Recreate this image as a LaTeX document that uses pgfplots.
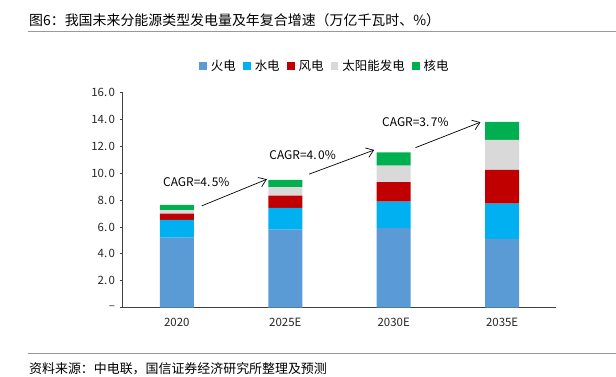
\documentclass[border=0pt]{standalone}
\usepackage{pgfplots}
\pgfplotsset{compat=1.18}
\usepackage{fontspec}
\setmainfont{Noto Sans CJK SC}
\usetikzlibrary{arrows.meta}
\definecolor{cHuo}{HTML}{5B9BD5}
\definecolor{cShui}{HTML}{00B0F0}
\definecolor{cFeng}{HTML}{C00000}
\definecolor{cTai}{HTML}{D9D9D9}
\definecolor{cHe}{HTML}{00B050}
\definecolor{axcol}{HTML}{404040}
\begin{document}
\begin{tikzpicture}[x=1bp,y=1bp]
\path (0,0) rectangle (616,377);
% title
\node[anchor=west, inner sep=0pt, font=\fontsize{14}{16}\selectfont] at (29,356.3) {图6：我国未来分能源类型发电量及年复合增速（万亿千瓦时、\%）};
\draw[gray!80, line width=0.8bp] (28,345.3) -- (616,345.3);
% footer
\draw[gray!80, line width=0.8bp] (28,23) -- (616,23);
\node[anchor=west, inner sep=0pt, font=\fontsize{13}{15}\selectfont] at (29,8) {资料来源：中电联，国信证券经济研究所整理及预测};
\begin{axis}[
  at={(122.7bp,69.3bp)}, anchor=south west,
  scale only axis, width=434bp, height=215bp,
  ybar stacked, bar width=34bp,
  xmin=-0.5, xmax=3.5, ymin=0, ymax=16,
  axis x line=bottom, axis y line=left,
  axis line style={-, axcol, line width=0.8bp},
  xtick={0,1,2,3},
  xticklabels={2020,2025E,2030E,2035E},
  x tick style={draw=none},
  extra x ticks={0.5,1.5,2.5,3.5},
  extra x tick labels={},
  extra x tick style={tick style={draw=axcol, line width=0.8bp}, major tick length=4bp, tick align=inside},
  ytick={0,2,4,6,8,10,12,14,16},
  yticklabels={--,2.\hspace{1.5bp}0,4.\hspace{1.5bp}0,6.\hspace{1.5bp}0,8.\hspace{1.5bp}0,10.\hspace{1.5bp}0,12.\hspace{1.5bp}0,14.\hspace{1.5bp}0,16.\hspace{1.5bp}0},
  y tick style={draw=axcol, line width=0.8bp},
  major tick length=3bp, tick align=outside,
  tick label style={font=\fontsize{11.5}{13}\selectfont, text=black!85},
  xticklabel style={yshift=-4bp},
  yticklabel style={xshift=-1bp},
  legend style={draw=none, at={(0.466,1.124)}, anchor=center, legend columns=5,
    font=\fontsize{12.5}{14}\selectfont, inner sep=0pt,
    /tikz/every even column/.append style={column sep=5bp}},
  legend image code/.code={\fill[#1] (0bp,-4bp) rectangle (8bp,4bp); \path (0bp,0bp) -- (10bp,0bp);},
  clip=false,
]
\addplot[fill=cHuo, draw=none] coordinates {(0,5.21) (1,5.80) (2,5.91) (3,5.11)};
\addplot[fill=cShui, draw=none] coordinates {(0,1.32) (1,1.62) (2,1.98) (3,2.63)};
\addplot[fill=cFeng, draw=none] coordinates {(0,0.46) (1,0.91) (2,1.44) (3,2.51)};
\addplot[fill=cTai, draw=none] coordinates {(0,0.26) (1,0.63) (2,1.24) (3,2.23)};
\addplot[fill=cHe, draw=none] coordinates {(0,0.39) (1,0.54) (2,0.99) (3,1.34)};
\legend{火电,水电,风电,太阳能发电,核电}
\draw[-{Straight Barb[length=7bp,width=10bp]}, line width=0.7bp] (axis cs:0.23,7.57) -- (axis cs:0.83,9.55);
\draw[-{Straight Barb[length=7bp,width=10bp]}, line width=0.7bp] (axis cs:1.22,9.93) -- (axis cs:1.82,11.73);
\draw[-{Straight Barb[length=7bp,width=10bp]}, line width=0.7bp] (axis cs:2.20,11.9) -- (axis cs:2.80,13.8);
\node[font=\fontsize{12}{14}\selectfont] at (axis cs:0.18,9.37) {CAGR=4.\hspace{1.5bp}5\%};
\node[font=\fontsize{12}{14}\selectfont] at (axis cs:1.16,11.36) {CAGR=4.\hspace{1.5bp}0\%};
\node[font=\fontsize{12}{14}\selectfont] at (axis cs:2.20,13.77) {CAGR=3.\hspace{1.5bp}7\%};
\end{axis}
\end{tikzpicture}
\end{document}
